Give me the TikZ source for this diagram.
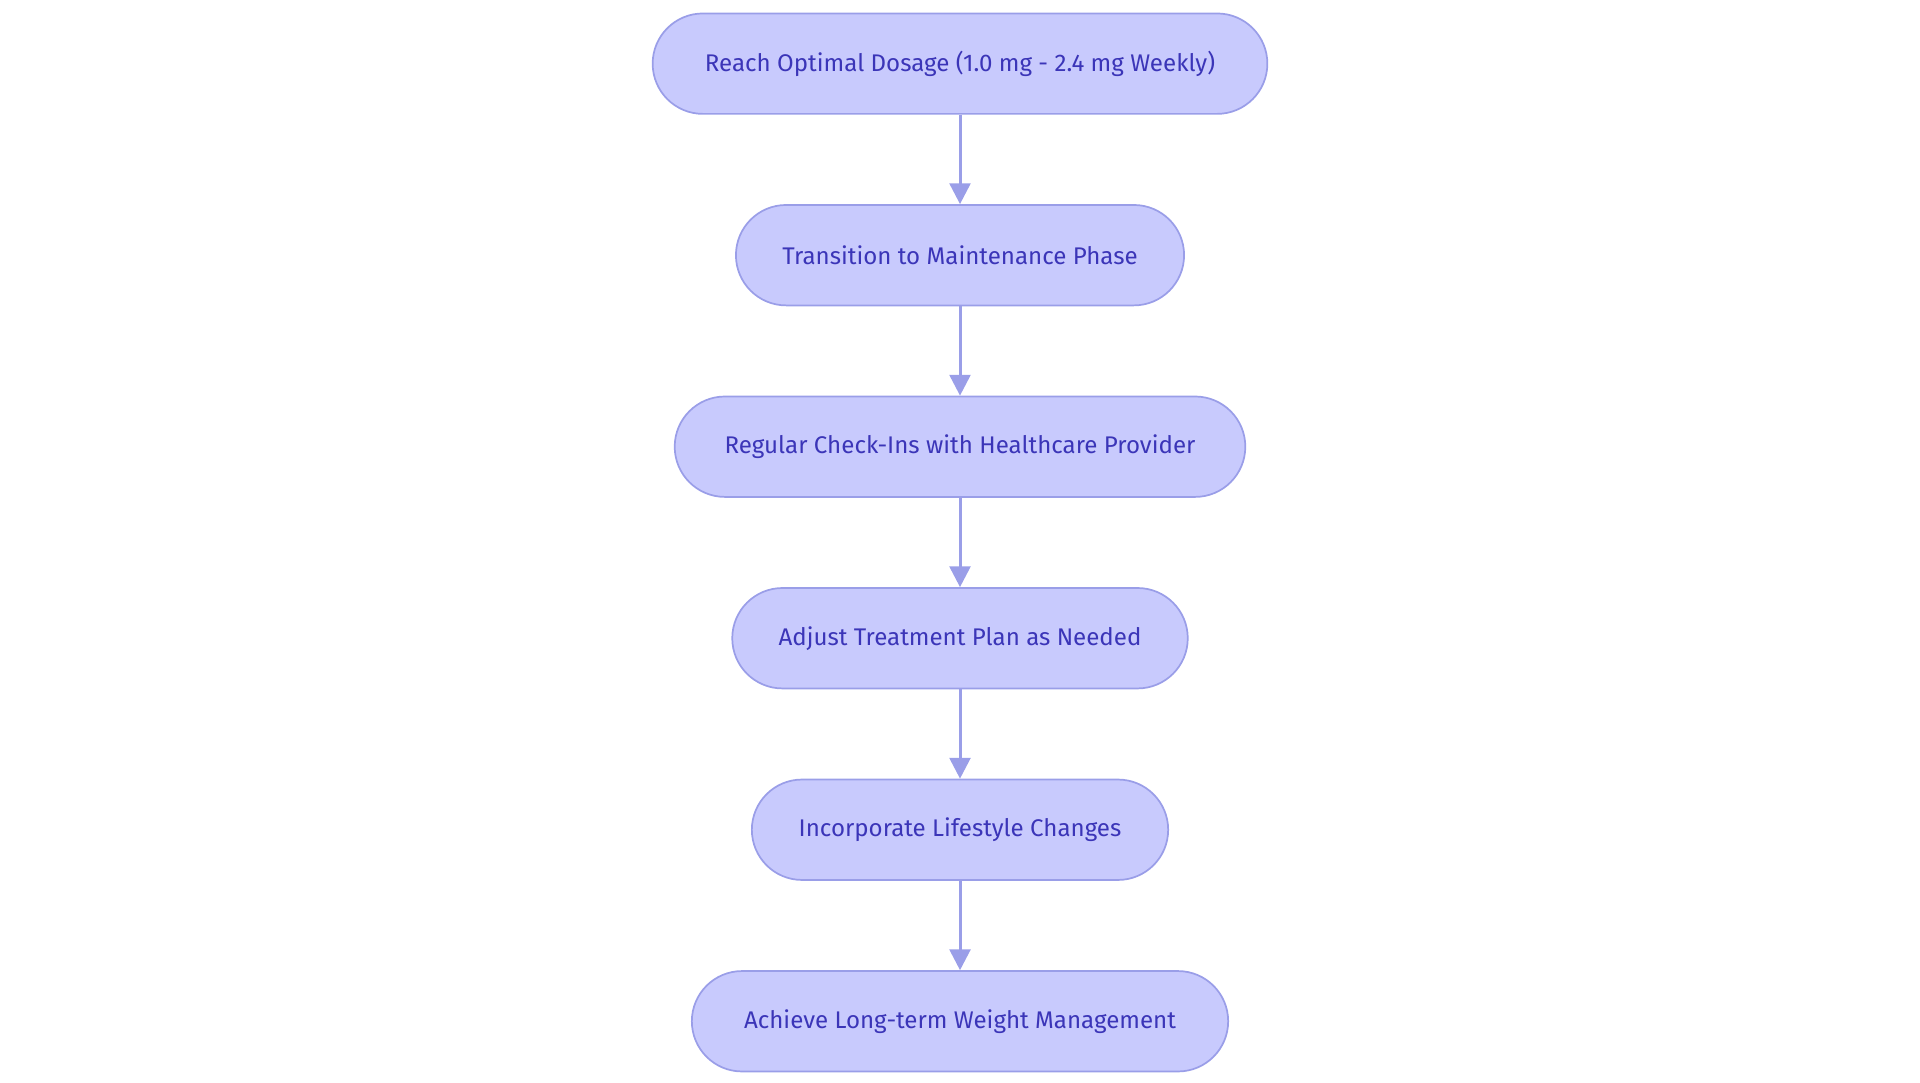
\documentclass[tikz,border=0pt]{standalone}
\usepackage{fontspec}
\setmainfont{Fira Sans}
\usetikzlibrary{positioning,arrows.meta}
\definecolor{stepfill}{HTML}{C8CAFD}
\definecolor{stepline}{HTML}{9A9EE8}
\definecolor{steptext}{HTML}{3B35B8}
\tikzset{
  phase/.style={draw=stepline, fill=stepfill, text=steptext, line width=0.4pt,
    rounded corners=0.41cm, minimum height=0.82cm, inner sep=0pt,
    font=\fontsize{5.6pt}{6pt}\selectfont},
  flow/.style={-{Triangle[length=0.17cm,width=0.17cm]}, draw=stepline, line width=0.7pt}
}
\begin{document}
\begin{tikzpicture}[node distance=0.73cm]
    \useasboundingbox (0,0) rectangle (15.68,-8.84);

    % Steps
    \node[phase, minimum width=5.02cm] (dose) at (7.84,-0.52) {Reach Optimal Dosage (1.0 mg - 2.4 mg Weekly)};
    \node[phase, minimum width=3.66cm, below=of dose] (maint) {Transition to Maintenance Phase};
    \node[phase, minimum width=4.66cm, below=of maint] (check) {Regular Check-Ins with Healthcare Provider};
    \node[phase, minimum width=3.72cm, below=of check] (adjust) {Adjust Treatment Plan as Needed};
    \node[phase, minimum width=3.40cm, below=of adjust] (life) {Incorporate Lifestyle Changes};
    \node[phase, minimum width=4.38cm, below=of life] (weight) {Achieve Long-term Weight Management};

    % Arrows
    \draw[flow] (dose) -- (maint);
    \draw[flow] (maint) -- (check);
    \draw[flow] (check) -- (adjust);
    \draw[flow] (adjust) -- (life);
    \draw[flow] (life) -- (weight);
\end{tikzpicture}
\end{document}
